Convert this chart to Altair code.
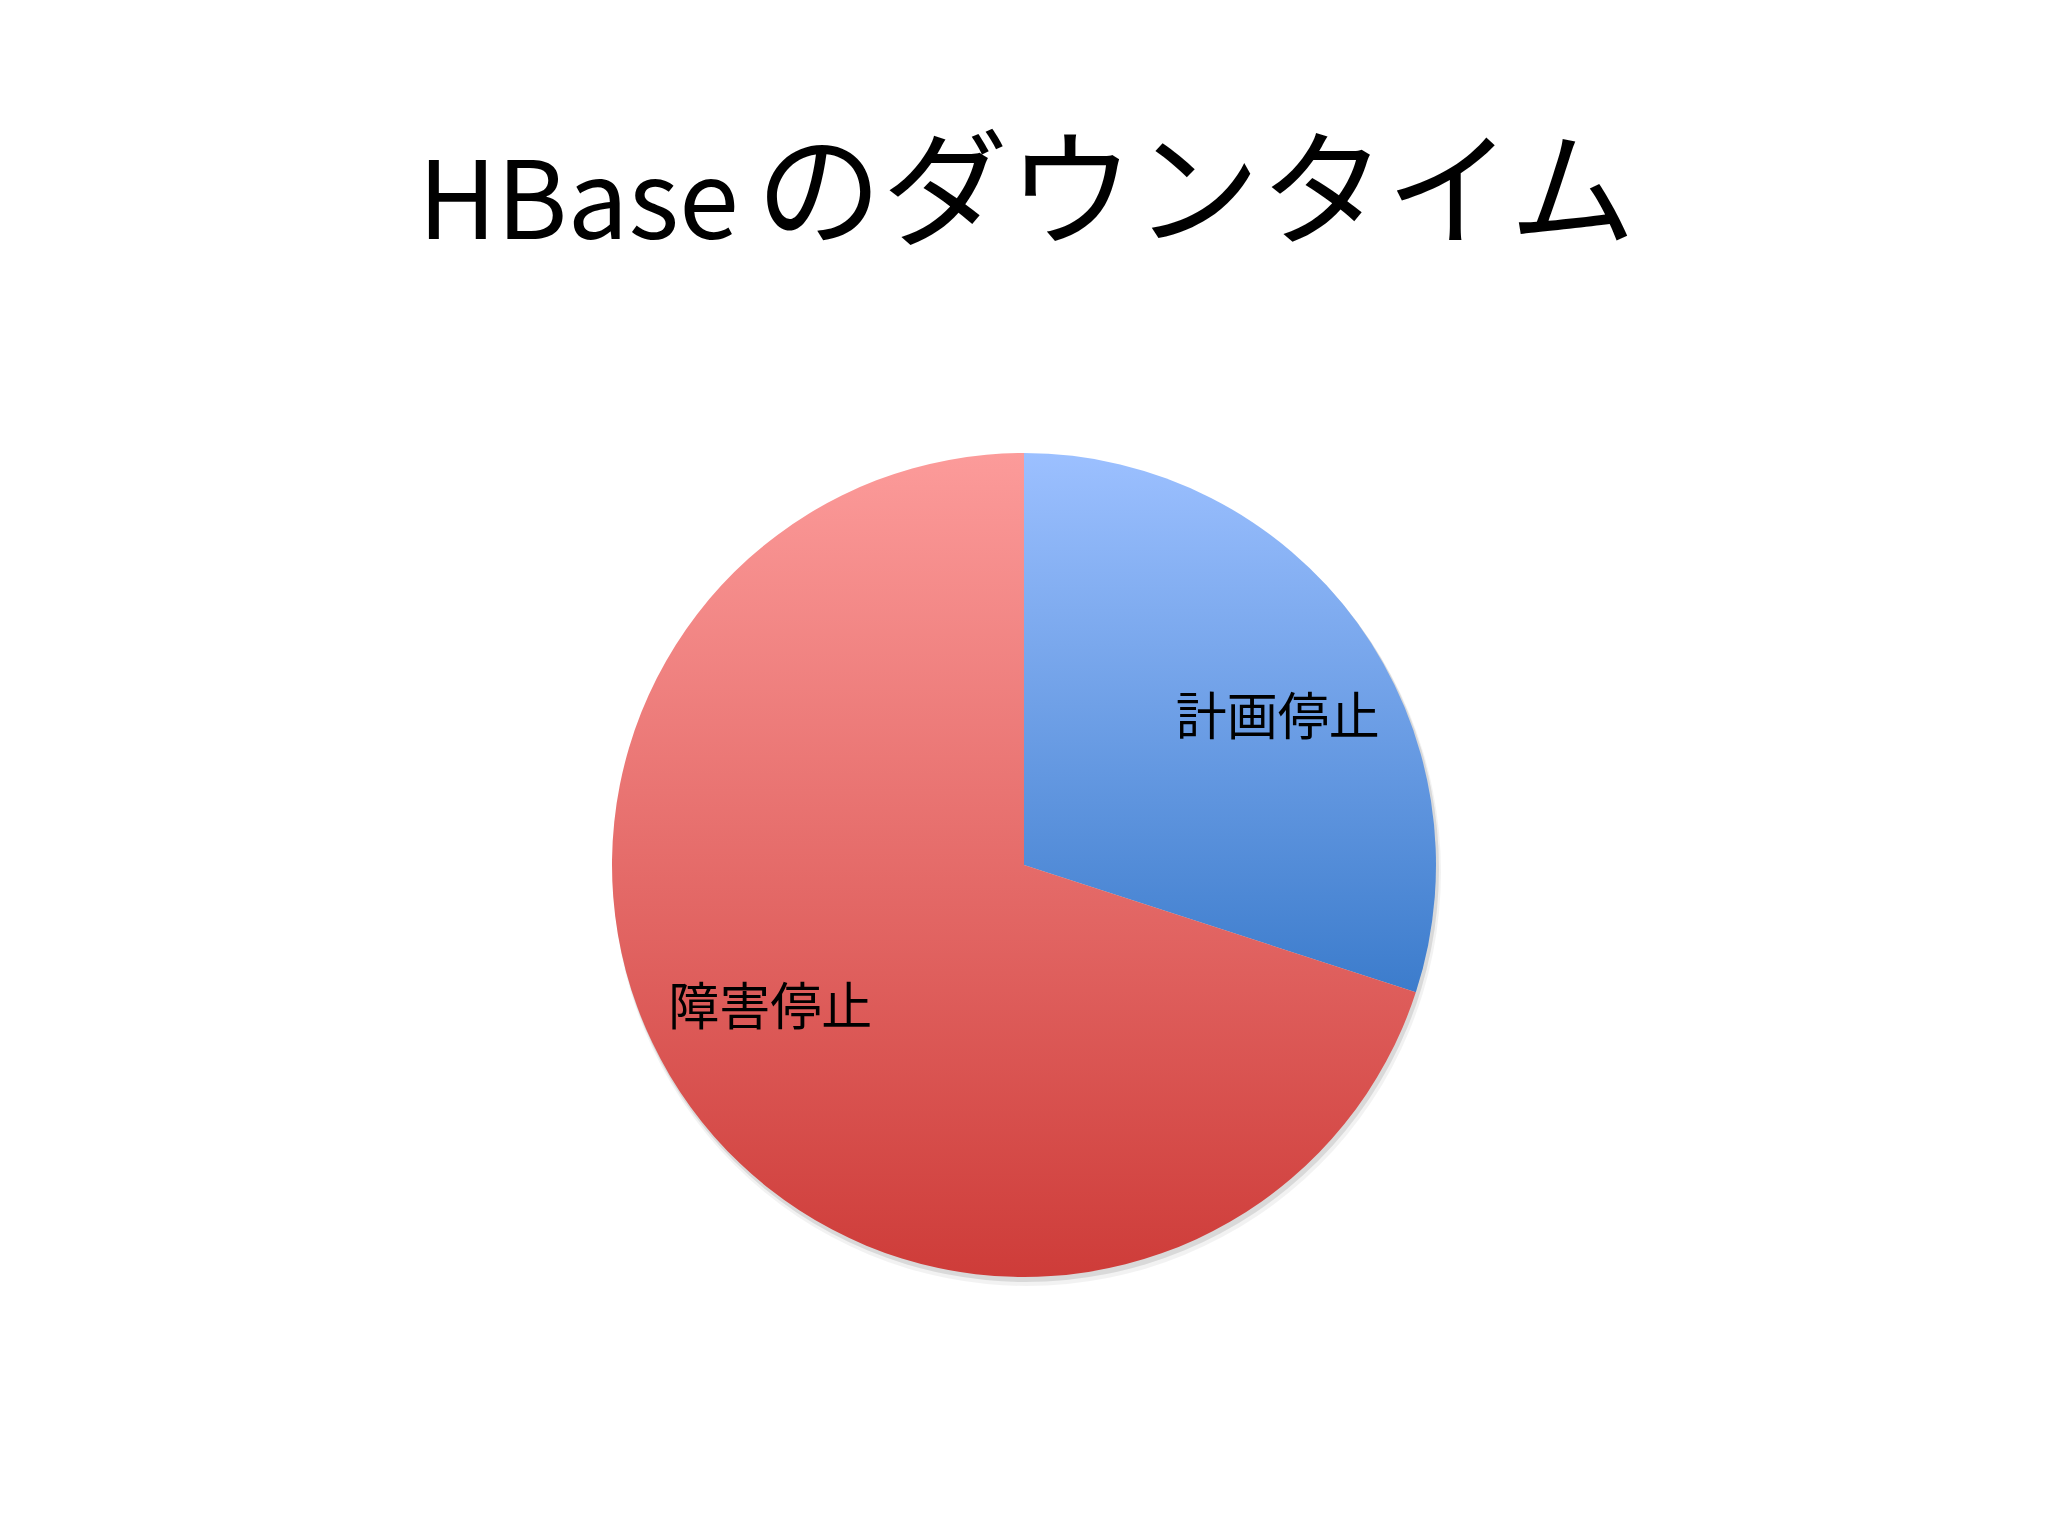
import altair as alt
import pandas as pd

# ---- data ----
categories = ["計画停止", "障害停止"]
values = [30, 70]
order_idx = [0, 1]
title_latin = "HBase"
title_jp = "のダウンタイム"

df = pd.DataFrame({"category": categories, "value": values, "idx": order_idx})

# ---- layout constants (plot-area pixels) ----
CX, CY, R = 1016, 857, 412
LABEL_R = 292
LABEL_SHIFT = 0.11  # radians, Excel-like label placement
FONT = "Noto Sans CJK JP"

blue = alt.Gradient(
    gradient="linear", x1=0, y1=0, x2=0, y2=1,
    stops=[alt.GradientStop(color="#9CC0FF", offset=0),
           alt.GradientStop(color="#3C7CCC", offset=1)],
)
red = alt.Gradient(
    gradient="linear", x1=0, y1=0, x2=0, y2=1,
    stops=[alt.GradientStop(color="#FC9B9A", offset=0),
           alt.GradientStop(color="#CE3C39", offset=1)],
)

base = alt.Chart(df)

# soft shadow below the pie
shadow1 = base.transform_aggregate(total="sum(value)").mark_arc(
    fill="#000000", opacity=0.10
).encode(
    theta=alt.Theta("total:Q"),
    x=alt.value(CX + 2), y=alt.value(CY + 4), radius=alt.value(R + 1),
)
shadow2 = base.transform_aggregate(total="sum(value)").mark_arc(
    fill="#000000", opacity=0.05
).encode(
    theta=alt.Theta("total:Q"),
    x=alt.value(CX + 3), y=alt.value(CY + 7), radius=alt.value(R + 2),
)

pie = base.mark_arc(strokeWidth=0).encode(
    theta=alt.Theta("value:Q", stack=True),
    order=alt.Order("idx:Q"),
    color=alt.condition(alt.datum.category == categories[0], alt.value(blue), alt.value(red)),
    x=alt.value(CX), y=alt.value(CY), radius=alt.value(R),
)

labels = base.transform_joinaggregate(total="sum(value)").transform_window(
    cum="sum(value)", sort=[alt.SortField("idx")]
).transform_calculate(
    mid="2*PI*(datum.cum - datum.value/2)/datum.total + %f" % LABEL_SHIFT,
).transform_calculate(
    lx="%f + %f*sin(datum.mid)" % (CX, LABEL_R),
    ly="%f - %f*cos(datum.mid)" % (CY, LABEL_R),
).mark_text(font=FONT, fontSize=51, color="#000000", align="center", baseline="middle").encode(
    x=alt.X("lx:Q", scale=None, axis=None),
    y=alt.Y("ly:Q", scale=None, axis=None),
    text="category:N",
)

title_df = pd.DataFrame({"a": [title_latin], "b": [title_jp]})
t1 = alt.Chart(title_df).mark_text(
    font=FONT, fontSize=108, color="#000000", align="left", baseline="alphabetic"
).encode(x=alt.value(410), y=alt.value(231), text="a:N")
t2 = alt.Chart(title_df).mark_text(
    font=FONT, fontSize=126, color="#000000", align="left", baseline="middle"
).encode(x=alt.value(748), y=alt.value(190), text="b:N")

chart = alt.layer(shadow2, shadow1, pie, labels, t1, t2).properties(
    width=2032, height=1520, padding=0, autosize=alt.AutoSizeParams(type="none"),
    background="#FFFFFF",
).configure_view(stroke=None)

chart.save("out.html", embed_options={"renderer": "svg", "actions": False})
